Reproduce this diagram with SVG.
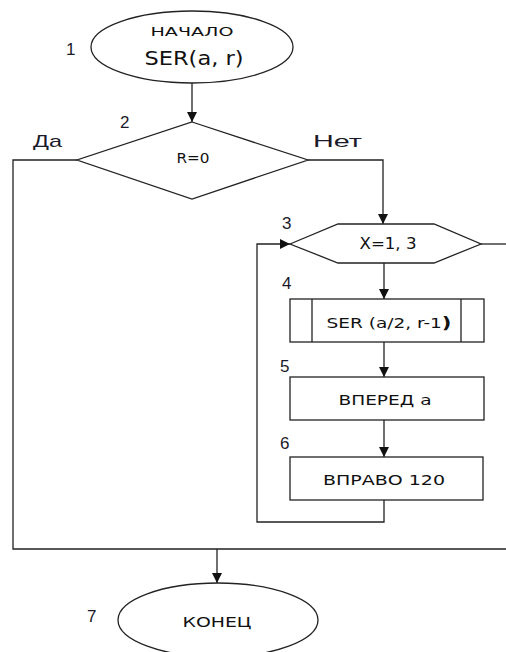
<svg xmlns="http://www.w3.org/2000/svg" width="506" height="652" viewBox="0 0 506 652">
<style>
.s{fill:#fff;stroke:#222;stroke-width:1.3}
.l{fill:none;stroke:#222;stroke-width:1.3}
.t{font-family:"DejaVu Sans","Liberation Sans",sans-serif;fill:#111;text-anchor:middle}
.n{font-family:"Liberation Sans",Arial,sans-serif;fill:#1a1a2a;font-size:17px}
</style>
<defs>
<marker id="a" viewBox="0 0 10 10" refX="10" refY="5" markerWidth="10" markerHeight="10" markerUnits="userSpaceOnUse" orient="auto">
<path d="M0,0 L10,5 L0,10 z" fill="#111"/>
</marker>
</defs>
<rect width="506" height="652" fill="#fff"/>
<g id="connectors">
<path class="l" d="M192,83 V122" marker-end="url(#a)"/>
<path class="l" d="M77,160 H13 V549 H506"/>
<path class="l" d="M308,160 H383 V224" marker-end="url(#a)"/>
<path class="l" d="M481,244 H506"/>
<path class="l" d="M384,263 V299" marker-end="url(#a)"/>
<path class="l" d="M384,342 V377" marker-end="url(#a)"/>
<path class="l" d="M384,420 V457" marker-end="url(#a)"/>
<path class="l" d="M384,500 V522 H257 V244 H290" marker-end="url(#a)"/>
<path class="l" d="M217,549 V583" marker-end="url(#a)"/>
</g>
<g id="n1">
<ellipse class="s" cx="192" cy="47" rx="101" ry="36"/>
<text class="t" x="192" y="36" font-size="13" textLength="83" lengthAdjust="spacingAndGlyphs">НАЧАЛО</text>
<text class="t" x="194" y="65" font-size="20" textLength="99" lengthAdjust="spacingAndGlyphs">SER(a, r)</text>
<text class="n" x="66" y="55">1</text>
</g>
<g id="n2">
<polygon class="s" points="192,122 308,160 192,199 77,160"/>
<text class="t" x="193" y="163" font-size="14" textLength="33" lengthAdjust="spacingAndGlyphs">R=0</text>
<text class="n" x="120" y="128">2</text>
<text class="n" x="33" y="147" textLength="29" lengthAdjust="spacingAndGlyphs">Да</text>
<text class="n" x="313" y="147" textLength="49" lengthAdjust="spacingAndGlyphs">Нет</text>
</g>
<g id="n3">
<polygon class="s" points="290,244 338,224 434,224 481,244 434,263 338,263"/>
<text class="t" x="388" y="249" font-size="15" textLength="57" lengthAdjust="spacingAndGlyphs">X=1, 3</text>
<text class="n" x="282" y="229">3</text>
</g>
<g id="n4">
<rect class="s" x="290" y="299" width="194" height="43"/>
<path class="l" d="M312,299 V342 M461,299 V342"/>
<text class="t" x="389" y="328" font-size="14" textLength="125" lengthAdjust="spacingAndGlyphs">SER (a/2, r-1<tspan font-weight="bold" font-size="16">)</tspan></text>
<text class="n" x="282" y="289">4</text>
</g>
<g id="n5">
<rect class="s" x="290" y="377" width="194" height="43"/>
<text class="t" x="385" y="405" font-size="14" textLength="93" lengthAdjust="spacingAndGlyphs">ВПЕРЕД а</text>
<text class="n" x="280" y="372">5</text>
</g>
<g id="n6">
<rect class="s" x="290" y="457" width="193" height="43"/>
<text class="t" x="384" y="485" font-size="14" textLength="122" lengthAdjust="spacingAndGlyphs">ВПРАВО 120</text>
<text class="n" x="280" y="449">6</text>
</g>
<g id="n7">
<ellipse class="s" cx="218" cy="620" rx="100" ry="37"/>
<text class="t" x="217" y="627" font-size="14" textLength="69" lengthAdjust="spacingAndGlyphs">КОНЕЦ</text>
<text class="n" x="87" y="622">7</text>
</g>
</svg>
